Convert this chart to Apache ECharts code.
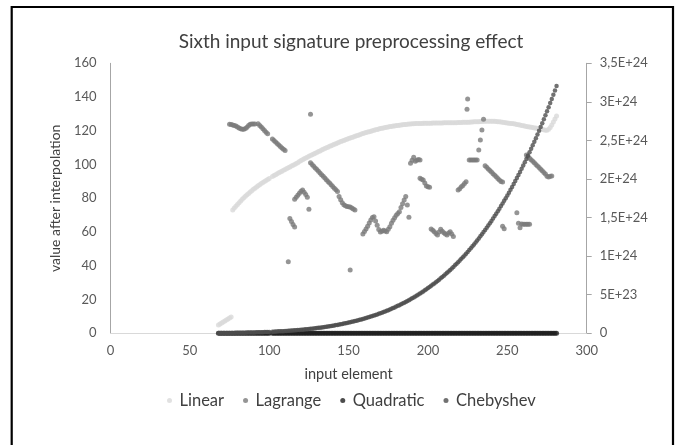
<!DOCTYPE html>
<html>
<head>
<meta charset="utf-8">
<script src="https://cdn.jsdelivr.net/npm/echarts@6/dist/echarts.min.js"></script>
<style>html,body{margin:0;padding:0;background:#fff;}#chart{width:683px;height:445px;}</style>
</head>
<body>
<div id="chart"></div>
<script>
// input elements shared by Linear, Quadratic and Chebyshev (element 101 missing)
const inputElement = [
  68,69,70,71,72,73,74,75,76,77,78,79,80,81,82,83,84,85,86,87,88,89,90,91,92,93,94,95,96,97,98,99,100,
  102,103,104,105,106,107,108,109,110,111,112,113,114,115,116,117,118,119,120,
  121,122,123,124,125,126,127,128,129,130,131,132,133,134,135,136,137,138,139,140,
  141,142,143,144,145,146,147,148,149,150,151,152,153,154,155,156,157,158,159,160,
  161,162,163,164,165,166,167,168,169,170,171,172,173,174,175,176,177,178,179,180,
  181,182,183,184,185,186,187,188,189,190,191,192,193,194,195,196,197,198,199,200,
  201,202,203,204,205,206,207,208,209,210,211,212,213,214,215,216,217,218,219,220,
  221,222,223,224,225,226,227,228,229,230,231,232,233,234,235,236,237,238,239,240,
  241,242,243,244,245,246,247,248,249,250,251,252,253,254,255,256,257,258,259,260,
  261,262,263,264,265,266,267,268,269,270,271,272,273,274,275,276,277,278,279,280,281
];

const linear = [
  4.9,5.5,6.1,6.7,7.3,7.9,8.5,9.1,9.7,
  73.0,74.2,75.3,76.4,77.4,78.4,79.4,80.3,81.2,82.1,82.9,83.7,84.5,85.3,86.0,86.7,87.4,88.1,88.8,89.4,90.0,90.6,91.2,91.8,
  92.9,93.5,94.0,94.6,95.1,95.6,96.1,96.6,97.1,97.6,98.1,98.6,99.1,99.6,100.1,100.6,101.1,101.8,102.4,
  102.9,103.4,103.9,104.4,104.9,105.4,105.8,106.3,106.7,107.2,
  107.7,108.1,108.6,109.0,109.5,109.9,110.3,110.8,111.2,111.6,
  112.0,112.4,112.8,113.2,113.6,114.0,114.3,114.7,115.0,115.4,
  115.7,116.1,116.4,116.8,117.1,117.4,117.7,118.1,118.4,118.7,
  119.0,119.3,119.5,119.8,120.1,120.3,120.6,120.8,121.1,121.3,
  121.5,121.7,121.9,122.1,122.3,122.5,122.6,122.8,122.9,123.1,
  123.2,123.3,123.5,123.6,123.7,123.8,123.9,124.0,124.1,124.2,
  124.2,124.3,124.3,124.4,124.4,124.4,124.5,124.5,124.5,124.5,
  124.5,124.5,124.6,124.6,124.6,124.6,124.6,124.6,124.6,124.7,
  124.7,124.7,124.7,124.7,124.8,124.8,124.8,124.8,124.9,124.9,
  124.9,125.0,125.0,125.0,125.1,125.1,125.2,125.2,125.3,125.3,
  125.4,125.4,125.5,125.5,125.6,125.6,125.6,125.7,125.7,125.7,
  125.6,125.6,
  125.5,125.4,125.3,125.2,125.1,124.9,124.8,124.6,124.5,124.4,
  124.3,124.2,124.0,123.8,123.6,123.4,123.2,123.0,122.8,122.6,
  122.4,122.3,122.1,121.9,121.7,121.6,121.4,121.2,121.0,120.8,
  120.6,120.4,120.4,120.9,122.0,123.5,125.2,127.0,128.7
];

const quadratic = [
  0,0,0,0,0,0,0,0,0,0,0,0,0,0,0,0,0,0,0,0,0,0,0,0,0,0,0,0,0,0,0,0,0,
  0,0,0,0,0,0,0,0,0,0,0,0,0,0,0,0,0,0,0,
  0,0,0,0,0,0,0,0,0,0,0,0,0,0,0,0,0,0,0,0,
  0,0,0,0,0,0,0,0,0,0,0,0,0,0,0,0,0,0,0,0,
  0,0,0,0,0,0,0,0,0,0,0,0,0,0,0,0,0,0,0,0,
  0,0,0,0,0,0,0,0,0,0,0,0,0,0,0,0,0,0,0,0,
  0,0,0,0,0,0,0,0,0,0,0,0,0,0,0,0,0,0,0,0,
  0,0,0,0,0,0,0,0,0,0,0,0,0,0,0,0,0,0,0,0,
  0,0,0,0,0,0,0,0,0,0,0,0,0,0,0,0,0,0,0,0,
  0,0,0,0,0,0,0,0,0,0,0,0,0,0,0,0,0,0,0,0,0
];

// Chebyshev values in units of 1E+24 (secondary axis)
const chebyshevE24 = [
  0.003,0.003,0.003,0.003,0.004,0.004,0.004,0.004,0.005,0.005,0.005,0.006,0.006,0.006,0.007,0.007,0.008,
  0.008,0.009,0.009,0.010,0.010,0.011,0.011,0.012,0.013,0.013,0.014,0.015,0.016,0.017,0.017,0.018,
  0.020,0.021,0.022,0.023,0.025,0.026,0.027,0.028,0.030,0.031,0.032,0.034,0.035,0.037,0.038,0.040,0.042,0.044,0.046,
  0.047,0.049,0.052,0.054,0.056,0.058,0.060,0.063,0.065,0.068,0.071,0.073,0.076,0.079,0.082,
  0.085,0.088,0.092,0.095,0.098,0.102,0.106,0.109,0.113,0.117,0.121,0.126,0.130,0.134,0.139,
  0.144,0.149,0.153,0.159,0.164,0.169,0.175,0.180,0.186,0.192,0.198,0.204,0.211,0.217,0.224,
  0.231,0.238,0.245,0.252,0.260,0.268,0.275,0.284,0.292,0.300,0.309,0.318,0.327,0.336,0.346,
  0.356,0.365,0.376,0.386,0.397,0.407,0.418,0.430,0.441,0.453,0.465,0.477,0.490,0.503,0.516,
  0.529,0.543,0.557,0.571,0.586,
  0.600,0.615,0.631,0.646,0.663,0.679,0.695,0.712,0.730,0.747,0.765,0.784,0.802,0.821,0.841,
  0.860,0.881,0.901,0.922,0.943,0.965,0.987,1.009,1.032,1.055,1.079,1.103,1.127,1.152,1.178,
  1.204,1.230,1.257,1.284,1.312,1.340,1.368,1.397,1.427,1.457,
  1.488,1.519,1.551,1.583,1.615,1.649,1.682,1.717,1.752,1.787,1.823,1.860,1.897,1.935,1.973,
  2.012,2.052,2.092,2.133,2.174,2.216,2.259,2.302,2.347,2.392,2.437,2.483,2.530,2.578,2.626,
  2.675,2.724,2.775,2.826,2.878,2.931,2.984,3.038,3.093,3.149,3.206
];

const lagrangeX = [
  75,76,77,78,79,80,81,82,83,84,85,86,87,88,89,90,91,
  93,94,95,96,97,98,99,
  102,103,104,105,106,107,108,109,110,
  112,
  113,114,115,116,
  116,117,118,119,120,121,122,123,124,
  125,126,
  126,127,128,129,130,131,132,133,134,135,136,137,138,139,140,141,142,143,
  144,145,146,147,148,149,150,151,152,153,154,
  151,
  159,160,161,162,163,164,165,166,167,168,169,170,171,172,173,174,175,176,177,178,179,180,181,182,183,184,185,186,
  187,188,
  189,190,191,192,193,194,195,
  195,196,197,198,199,200,201,
  202,203,204,205,206,207,208,209,210,211,212,213,214,215,216,
  219,220,221,222,223,224,
  224.6,225,
  226,227,228,229,230,231,
  232,233,234,235,
  236,237,238,239,240,241,242,243,244,245,246,247,
  247,248,
  256,
  257,258,259,260,261,262,263,264,
  262,263,264,265,266,267,268,269,270,271,272,273,274,275,276,277,278
];
const lagrangeY = [
  123.9,123.7,123.5,123.1,122.8,122.3,121.7,121.2,120.9,120.9,121.3,122.1,123.2,123.9,124.0,124.0,124.1,
  124.2,123.2,122.2,121.2,120.2,119.2,118.2,
  115.2,114.3,113.4,112.5,111.6,110.7,109.8,109.0,108.3,
  42.4,
  68.0,66.3,64.5,63.0,
  79.4,80.6,81.8,83.0,84.2,84.9,83.6,82.2,80.6,
  73.5,129.8,
  101.0,100.0,99.0,98.0,97.0,96.0,95.0,94.0,93.0,92.0,91.0,90.0,89.0,88.0,87.0,86.0,85.0,84.0,
  81.0,79.2,77.4,76.2,75.6,75.2,75.0,74.8,74.2,73.6,73.0,
  37.5,
  58.8,60.3,61.8,63.5,65.3,67.2,68.6,69.0,66.5,64.0,61.5,60.0,60.5,61.0,60.6,60.2,61.7,63.2,65.2,67.0,68.5,70.0,71.0,72.0,74.5,76.8,79.0,81.0,
  76.0,68.7,
  100.7,102.5,104.3,102.0,102.5,103.0,102.7,
  91.9,91.3,90.8,89.0,87.3,86.8,86.5,
  61.8,61.0,60.2,59.2,58.2,60.0,61.6,60.5,59.6,58.8,58.2,59.5,60.2,58.8,57.3,
  84.9,85.6,86.8,87.6,88.8,89.8,
  132.7,138.8,
  102.7,102.7,102.7,102.7,102.7,102.7,
  108.6,114.5,120.5,126.8,
  99.3,98.4,97.4,96.5,95.6,94.6,93.7,92.8,91.8,90.9,90.0,89.6,
  63.5,62.0,
  71.5,
  65.2,62.5,64.8,64.6,64.6,64.6,64.6,64.6,
  105.7,104.8,103.8,102.9,101.9,101.0,100.0,99.1,98.2,97.2,96.3,95.3,94.4,93.0,92.6,93.0,93.2
];

const seriesNames = ['Linear', 'Lagrange', 'Quadratic', 'Chebyshev'];
const xTicks = { min: 0, max: 300, step: 50 };
const leftTicks = { min: 0, max: 160, step: 20 };
const rightTicks = { min: 0, max: 3.5e24, step: 5e23 };

const FONT = 'Lato';
const chart = echarts.init(document.getElementById('chart'), null, { renderer: 'canvas' });

function rightLabel(v) {
  const m = Math.round(v / 1e23);
  if (m === 0) return '0';
  if (m < 10) return m + 'E+23';
  return String(m / 10).replace('.', ',') + 'E+24';
}

const option = {
  animation: false,
  backgroundColor: '#ffffff',
  graphic: [{
    type: 'rect', silent: true, z: 100,
    shape: { x: 11.7, y: 7, width: 661.3, height: 460 },
    style: { fill: 'none', stroke: '#000000', lineWidth: 2.2 }
  }],
  title: {
    text: 'Sixth input signature preprocessing effect',
    left: 346, top: 27, textAlign: 'center',
    textStyle: { fontFamily: FONT, fontSize: 19, fontWeight: 'normal', color: '#404040' }
  },
  legend: {
    data: seriesNames,
    left: 162, top: 387,
    icon: 'circle', itemWidth: 10, itemHeight: 5, itemGap: 19,
    textStyle: { fontFamily: FONT, fontSize: 16.5, color: '#404040' }
  },
  grid: { left: 110.5, right: 96.3, top: 63.3, bottom: 111.7, containLabel: false },
  xAxis: {
    type: 'value', min: xTicks.min, max: xTicks.max, interval: xTicks.step,
    name: 'input element', nameLocation: 'middle', nameGap: 34,
    nameTextStyle: { fontFamily: FONT, fontSize: 14.5, color: '#404040' },
    axisLine: { show: true, onZero: false, lineStyle: { color: '#d9d9d9', width: 1 } },
    axisTick: { show: false },
    splitLine: { show: false },
    axisLabel: { margin: 11, fontFamily: FONT, fontSize: 13, color: '#595959' }
  },
  yAxis: [{
    type: 'value', position: 'left', min: leftTicks.min, max: leftTicks.max, interval: leftTicks.step,
    name: 'value after interpolation', nameLocation: 'middle', nameGap: 45,
    nameTextStyle: { fontFamily: FONT, fontSize: 14, color: '#404040' },
    axisLine: { show: true, lineStyle: { color: '#a6a6a6', width: 1 } },
    axisTick: { show: false },
    splitLine: { show: false },
    axisLabel: { margin: 14, fontFamily: FONT, fontSize: 13, color: '#595959' }
  }, {
    type: 'value', position: 'right', min: rightTicks.min, max: rightTicks.max, interval: rightTicks.step,
    axisLine: { show: true, lineStyle: { color: '#a6a6a6', width: 1 } },
    axisTick: { show: true, length: 5, lineStyle: { color: '#a6a6a6' } },
    splitLine: { show: false },
    axisLabel: { margin: 13, fontFamily: FONT, fontSize: 13, color: '#595959', formatter: rightLabel }
  }],
  series: [{
    name: 'Linear', type: 'scatter', yAxisIndex: 0, symbolSize: 5,
    itemStyle: { color: '#d9d9d9' },
    data: inputElement.map((x, i) => [x, linear[i]])
  }, {
    name: 'Lagrange', type: 'scatter', yAxisIndex: 0, symbolSize: 5,
    itemStyle: { color: '#7a7a7a' },
    data: lagrangeX.map((x, i) => [x, lagrangeY[i]])
  }, {
    name: 'Quadratic', type: 'scatter', yAxisIndex: 0, symbolSize: 5,
    itemStyle: { color: '#1f1f1f' },
    data: inputElement.map((x, i) => [x, quadratic[i]])
  }, {
    name: 'Chebyshev', type: 'scatter', yAxisIndex: 1, symbolSize: 4.5,
    itemStyle: { color: '#4d4d4d' },
    data: inputElement.map((x, i) => [x, chebyshevE24[i] * 1e24])
  }]
};
chart.setOption(option);
</script>
</body>
</html>
